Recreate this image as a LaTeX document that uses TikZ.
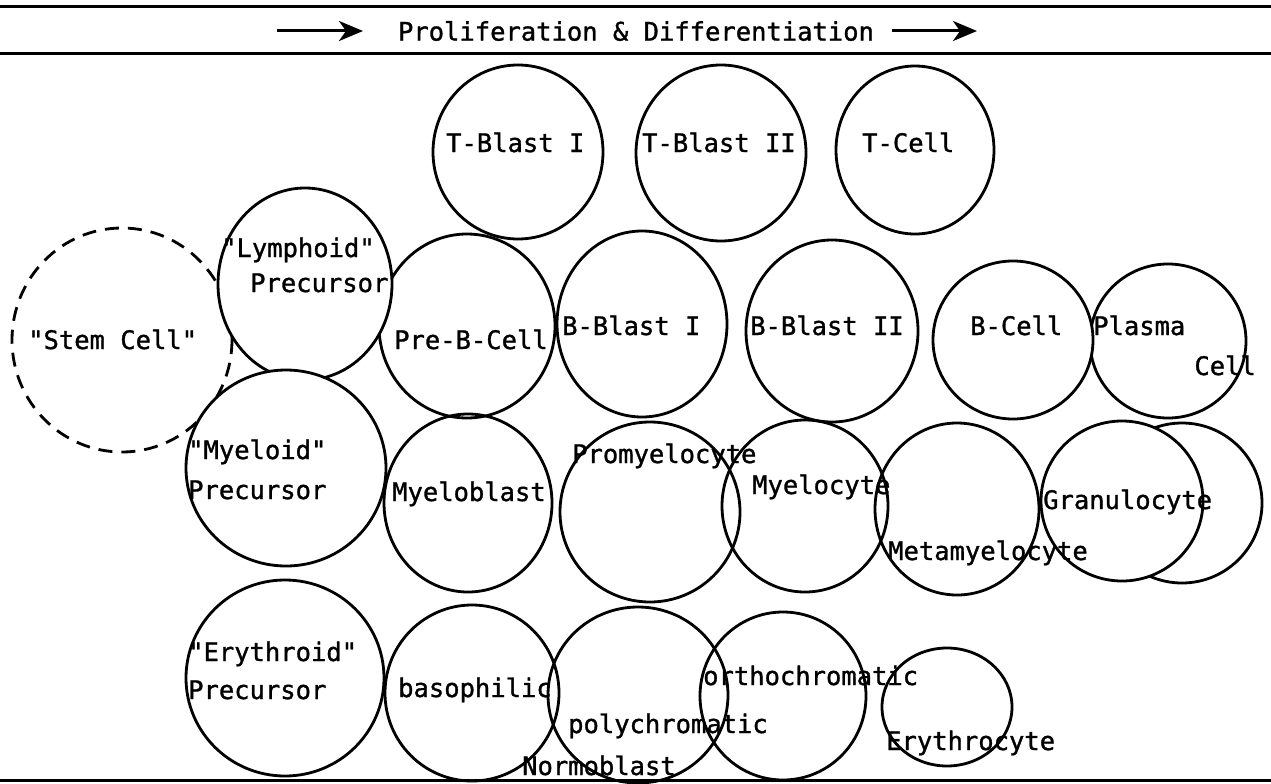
\documentclass[tikz,border=0pt]{standalone}
\usepackage{fontspec}
\newfontfamily\labfont[FakeBold=1.2]{DejaVu Sans Mono}
\usetikzlibrary{arrows.meta}
\tikzset{
  cell/.style={draw=black, line width=2.8pt},
  cellw/.style={draw=black, line width=2.8pt, fill=white},
  stemcell/.style={draw=black, line width=2.8pt, dash pattern=on 14pt off 9pt},
  lbl/.style={font=\labfont\fontsize{25.5}{30}\selectfont, inner sep=0pt, anchor=base west},
  lblr/.style={font=\labfont\fontsize{25.5}{30}\selectfont, inner sep=0pt, anchor=base east},
  rule/.style={line width=3pt},
  flow/.style={line width=3pt, -{Stealth[length=24pt,width=20pt,inset=7pt]}}
}
\begin{document}
\begin{tikzpicture}[x=1pt,y=-1pt]
\useasboundingbox (0,0) rectangle (1271,784);
% rules
\coordinate (tl) at (0,7); \coordinate (tr) at (1271,7);
\coordinate (ml) at (0,54); \coordinate (mr) at (1271,54);
\coordinate (bl) at (0,780); \coordinate (br) at (1271,780);
\draw[rule] (tl) -- (tr);
\draw[rule] (ml) -- (mr);
\draw[rule] (bl) -- (br);
% title
\node[font=\labfont\fontsize{25.5}{30}\selectfont, inner sep=0pt] (title) at (636,31) {Proliferation \& Differentiation};
\coordinate (a1s) at (277,31); \coordinate (a1e) at (363,31);
\coordinate (a2s) at (892,31); \coordinate (a2e) at (977,31);
\draw[flow] (a1s) -- (a1e);
\draw[flow] (a2s) -- (a2e);
% background circles
\draw[stemcell] (122,340) ellipse [x radius=110, y radius=112];
\draw[cell] (467,326) ellipse [x radius=88, y radius=92];
\draw[cell] (1168,341) ellipse [x radius=78, y radius=77];
\draw[cell] (1182,503) ellipse [x radius=80, y radius=80];
% T row
\draw[cell] (518,152) ellipse [x radius=85, y radius=87];
\draw[cell] (721,153) ellipse [x radius=85, y radius=88];
\draw[cell] (915,150) ellipse [x radius=79, y radius=84];
% precursors
\draw[cellw] (305,284) ellipse [x radius=87, y radius=96];
\draw[cellw] (286,468) ellipse [x radius=100, y radius=98];
\draw[cell] (285,678) ellipse [x radius=99, y radius=98];
% B row
\draw[cell] (642,324) ellipse [x radius=85, y radius=93];
\draw[cell] (832,331) ellipse [x radius=86, y radius=91];
\draw[cellw] (1013,340) ellipse [x radius=80, y radius=79];
% myeloid row
\draw[cell] (468,503) ellipse [x radius=84, y radius=89];
\draw[cell] (650,512) ellipse [x radius=90, y radius=90];
\draw[cell] (805,506) ellipse [x radius=83, y radius=86];
\draw[cell] (957,509) ellipse [x radius=82, y radius=86];
\draw[cellw] (1122,501) ellipse [x radius=81, y radius=80];
% erythroid row
\draw[cell] (472,693) ellipse [x radius=87, y radius=88];
\draw[cell] (638,695) ellipse [x radius=90, y radius=88];
\draw[cell] (783,696) ellipse [x radius=83, y radius=84];
\draw[cell] (947,707) ellipse [x radius=65, y radius=59];
% labels
\node[lbl] (stem) at (28,349) {"Stem Cell"};
\node[lbl] (lym1) at (221,257) {"Lymphoid"};
\node[lbl] (lym2) at (250,292) {Precursor};
\node[lbl] (tb1) at (446,152) {T-Blast I};
\node[lbl] (tb2) at (642,152) {T-Blast II};
\node[lbl] (tc) at (862,152) {T-Cell};
\node[lbl] (preb) at (394,349) {Pre-B-Cell};
\node[lbl] (bb1) at (562,335) {B-Blast I};
\node[lbl] (bb2) at (750,335) {B-Blast II};
\node[lbl] (bc) at (970,335) {B-Cell};
\node[lbl] (pl1) at (1093,335) {Plasma};
\node[lblr] (pl2) at (1256,375) {Cell};
\node[lbl] (my1) at (188,459) {"Myeloid"};
\node[lbl] (my2) at (188,499) {Precursor};
\node[lbl] (mb) at (392,501) {Myeloblast};
\node[lbl] (pm) at (572,463) {Promyelocyte};
\node[lbl] (mc) at (752,494) {Myelocyte};
\node[lbl] (mm) at (888,560) {Metamyelocyte};
\node[lbl] (gr) at (1043,509) {Granulocyte};
\node[lbl] (er1) at (188,661) {"Erythroid"};
\node[lbl] (er2) at (188,699) {Precursor};
\node[lbl] (bas) at (398,697) {basophilic};
\node[lbl] (poly) at (568,733) {polychromatic};
\node[lbl] (norm) at (522,775) {Normoblast};
\node[lbl] (orth) at (703,685) {orthochromatic};
\node[lbl] (ery) at (886,750) {Erythrocyte};
\end{tikzpicture}
\end{document}
